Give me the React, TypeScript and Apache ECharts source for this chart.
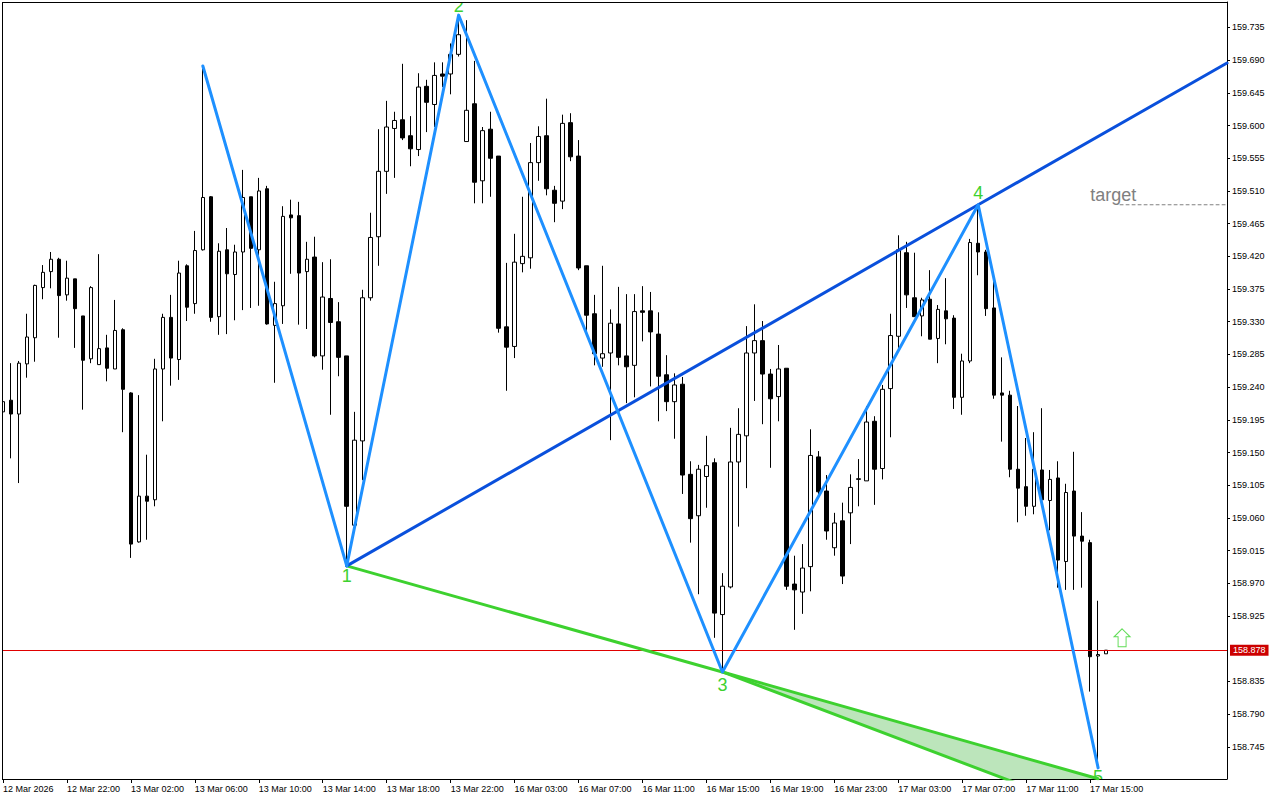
import React, { useEffect, useRef } from "react";
import * as echarts from "echarts";

const opens = [159.206,159.222,159.203,159.272,159.308,159.377,159.399,159.416,159.367,159.389,159.338,159.279,159.271,159.294,159.265,159.319,159.232,159.027,159.090,159.085,159.265,159.336,159.278,159.407,159.355,159.429,159.502,159.337,159.429,159.395,159.426,159.502,159.429,159.513,159.325,159.352,159.477,159.476,159.399,159.419,159.283,159.362,159.330,159.283,159.050,159.166,159.363,159.447,159.537,159.596,159.608,159.586,159.567,159.654,159.629,159.671,159.671,159.698,159.578,159.630,159.524,159.595,159.558,159.323,159.296,159.410,159.418,159.549,159.586,159.511,159.496,159.604,159.558,159.407,159.341,159.280,159.287,159.327,159.283,159.270,159.345,159.345,159.313,159.257,159.220,159.244,159.120,159.063,159.117,159.136,158.927,158.965,159.137,159.173,159.287,159.304,159.258,159.227,159.266,158.969,158.958,158.993,159.144,159.097,159.019,159.056,159.067,159.113,159.111,159.193,159.128,159.238,159.310,159.425,159.363,159.338,159.361,159.307,159.345,159.335,159.226,159.276,159.438,159.426,159.349,159.232,159.229,159.127,159.103,159.076,159.126,159.084,159.115,159.000,159.097,159.035,159.026,158.870,158.873];
const closes = [159.220,159.203,159.273,159.309,159.380,159.398,159.416,159.366,159.390,159.348,159.277,159.377,159.293,159.266,159.318,159.237,159.024,159.090,159.083,159.265,159.336,159.280,159.397,159.350,159.428,159.501,159.336,159.427,159.396,159.426,159.501,159.431,159.510,159.327,159.355,159.475,159.473,159.397,159.416,159.283,159.364,159.329,159.281,159.076,159.167,159.363,159.446,159.537,159.598,159.607,159.583,159.568,159.653,159.632,159.669,159.668,159.698,159.725,159.621,159.522,159.593,159.555,159.321,159.295,159.412,159.420,159.549,159.585,159.513,159.493,159.603,159.557,159.404,159.339,159.286,159.286,159.328,159.281,159.268,159.344,159.343,159.316,159.255,159.220,159.243,159.119,159.059,159.127,159.132,158.929,158.966,159.137,159.175,159.287,159.304,159.258,159.224,159.265,158.966,158.961,158.991,159.146,159.096,159.042,159.053,158.980,159.102,159.114,159.192,159.127,159.237,159.311,159.429,159.367,159.337,159.360,159.306,159.347,159.334,159.226,159.276,159.439,159.426,159.348,159.229,159.229,159.127,159.101,159.076,159.127,159.085,159.113,159.002,159.095,159.035,159.028,158.869,158.872,158.878];
const lows = [159.206,159.142,159.108,159.253,159.275,159.361,159.376,159.308,159.359,159.294,159.209,159.273,159.271,159.248,159.265,159.178,159.005,159.026,159.030,159.076,159.193,159.242,159.250,159.331,159.341,159.428,159.330,159.312,159.313,159.332,159.346,159.349,159.352,159.326,159.246,159.327,159.396,159.326,159.320,159.281,159.264,159.202,159.255,158.998,159.050,159.112,159.359,159.407,159.506,159.528,159.580,159.544,159.558,159.591,159.598,159.653,159.643,159.695,159.578,159.493,159.493,159.502,159.315,159.235,159.280,159.398,159.403,159.524,159.504,159.467,159.485,159.551,159.401,159.316,159.270,159.268,159.167,159.270,159.218,159.226,159.303,159.241,159.193,159.207,159.169,159.093,159.026,158.955,159.074,158.895,158.848,158.963,159.048,159.101,159.221,159.189,159.129,159.193,158.961,158.906,158.928,158.959,159.088,159.030,159.008,158.969,159.024,159.076,159.111,159.078,159.113,159.171,159.294,159.349,159.337,159.310,159.306,159.273,159.299,159.210,159.202,159.273,159.394,159.338,159.224,159.165,159.116,159.054,159.063,159.065,159.085,159.043,158.964,158.961,158.961,158.964,158.821,158.716,158.873];
const highs = [159.220,159.273,159.276,159.341,159.381,159.408,159.426,159.418,159.414,159.389,159.338,159.379,159.423,159.312,159.360,159.321,159.233,159.229,159.147,159.279,159.341,159.367,159.414,159.409,159.455,159.682,159.503,159.438,159.459,159.436,159.539,159.502,159.528,159.517,159.385,159.489,159.498,159.495,159.440,159.447,159.412,159.416,159.357,159.283,159.206,159.374,159.480,159.595,159.634,159.619,159.685,159.613,159.672,159.663,159.687,159.687,159.713,159.752,159.745,159.689,159.598,159.619,159.558,159.411,159.451,159.502,159.576,159.599,159.637,159.517,159.615,159.617,159.580,159.407,159.367,159.407,159.347,159.378,159.368,159.368,159.379,159.371,159.343,159.284,159.259,159.254,159.138,159.133,159.173,159.142,158.984,159.184,159.211,159.324,159.354,159.331,159.265,159.298,159.266,159.008,159.024,159.182,159.152,159.119,159.067,159.081,159.120,159.141,159.214,159.200,159.243,159.341,159.449,159.440,159.425,159.363,159.401,159.353,159.390,159.339,159.286,159.444,159.491,159.429,159.398,159.281,159.235,159.214,159.170,159.178,159.211,159.126,159.138,159.107,159.151,159.068,159.030,158.946,158.878];

const timeLabels = ["12 Mar 2026","12 Mar 22:00","13 Mar 02:00","13 Mar 06:00","13 Mar 10:00","13 Mar 14:00","13 Mar 18:00","13 Mar 22:00","16 Mar 03:00","16 Mar 07:00","16 Mar 11:00","16 Mar 15:00","16 Mar 19:00","16 Mar 23:00","17 Mar 03:00","17 Mar 07:00","17 Mar 11:00","17 Mar 15:00"];
const priceTicks = [158.745,158.79,158.835,158.925,158.97,159.015,159.06,159.105,159.15,159.195,159.24,159.285,159.33,159.375,159.42,159.465,159.51,159.555,159.6,159.645,159.69,159.735];
const currentPrice = 158.878;

const zigzagBars = [25,43,57,90,122,137];
const zigzagPrices = [159.682,158.994,159.752,158.848,159.491,158.716];
const upperBars = [43,122,153.125];
const upperPrices = [158.994,159.491,159.686];
const lowerBars = [43,90,137];
const lowerPrices = [158.994,158.848,158.701];
const wedgeBars = [90,137];
const wedgePrices = [158.848,158.6525];
const targetBars = [139.75,153.125];
const targetPrices = [159.491,159.491];
const arrowPoint = [140,158.895];

const pointTexts = ["1","2","3","4","5"];
const pointBars = [43,57,90,122,137];
const pointPrices = [158.98,159.765,158.83,159.507,158.7035];
const targetText = ["target"];
const targetTextBars = [138.9];
const targetTextPrices = [159.5045];

const FONT = "'Liberation Sans', Arial, sans-serif";
const BLACK = "#000000";
const pairs = (xs: number[], ys: number[]) => xs.map((x, i) => [x, ys[i]]);

function lineSeries(xs: number[], ys: number[], color: string, width = 3, type: any = "solid") {
  return {
    type: "line",
    data: pairs(xs, ys),
    symbol: "none",
    showSymbol: false,
    silent: true,
    lineStyle: { color, width, type, cap: "round", join: "round" },
    z: 5,
  };
}

function textSeries(texts: string[], xs: number[], ys: number[], color: string, size: number) {
  return {
    type: "custom",
    clip: true,
    silent: true,
    z: 6,
    data: pairs(xs, ys),
    encode: { x: 0, y: 1 },
    renderItem: (params: any, api: any) => {
      const p = api.coord([api.value(0), api.value(1)]);
      return {
        type: "text",
        x: p[0],
        y: p[1],
        style: {
          text: texts[params.dataIndex],
          fill: color,
          fontSize: size,
          fontFamily: FONT,
          align: "center",
          verticalAlign: "middle",
        },
      };
    },
  };
}

export default function App() {
  const ref = useRef<HTMLDivElement>(null);
  useEffect(() => {
    const chart = echarts.init(ref.current!, undefined, { renderer: "svg" });
    const candles = opens.map((o, i) => [i, o, closes[i], lows[i], highs[i]]);
    chart.setOption({
      animation: false,
      backgroundColor: "#ffffff",
      grid: { left: 2, top: 2, width: 1225, height: 777, show: false },
      graphic: [
        { type: "rect", z: 100, silent: true, shape: { x: 0, y: 0, width: 2, height: 800 }, style: { fill: "#ffffff" } },
        { type: "rect", z: 101, silent: true, shape: { x: 2, y: 2, width: 1, height: 778 }, style: { fill: BLACK } },
        { type: "rect", z: 101, silent: true, shape: { x: 2, y: 2, width: 1226, height: 1 }, style: { fill: BLACK } },
      ],
      xAxis: {
        type: "value",
        min: 0,
        max: 153.125,
        splitLine: { show: false },
        axisLine: { show: true, onZero: false, lineStyle: { color: BLACK, width: 1 } },
        axisTick: { show: true, length: 4, inside: false, lineStyle: { color: BLACK }, customValues: timeLabels.map((_, i) => i * 8) },
        axisLabel: {
          show: true,
          customValues: timeLabels.map((_, i) => i * 8),
          formatter: (v: number) => timeLabels[Math.round(v / 8)] ?? "",
          align: "left",
          margin: 5,
          color: BLACK,
          fontSize: 9,
          fontFamily: FONT,
        },
      },
      yAxis: {
        type: "value",
        position: "right",
        min: 158.7007,
        max: 159.77005,
        splitLine: { show: false },
        axisLine: { show: true, onZero: false, lineStyle: { color: BLACK, width: 1 } },
        axisTick: { show: true, length: 3, lineStyle: { color: BLACK }, customValues: priceTicks },
        axisLabel: {
          show: true,
          customValues: priceTicks,
          formatter: (v: number) => v.toFixed(3),
          margin: 5,
          color: BLACK,
          fontSize: 9,
          fontFamily: FONT,
        },
      },
      series: [
        {
          type: "candlestick",
          data: candles,
          encode: { x: 0, y: [1, 2, 3, 4] },
          barWidth: 4,
          silent: true,
          itemStyle: {
            color: "#ffffff",
            color0: BLACK,
            borderColor: BLACK,
            borderColor0: BLACK,
            borderWidth: 1,
          },
          markLine: {
            silent: true,
            symbol: "none",
            animation: false,
            precision: 3,
            data: [{ yAxis: currentPrice }],
            lineStyle: { color: "#e00000", width: 1, type: "solid" },
            label: {
              show: true,
              position: "end",
              formatter: currentPrice.toFixed(3),
              distance: 3,
              color: "#ffffff",
              backgroundColor: "#cc0000",
              padding: [1, 3, 1, 3],
              fontSize: 9,
              fontFamily: FONT,
            },
          },
        },
        {
          type: "custom",
          clip: true,
          silent: true,
          z: 4,
          data: [0],
          renderItem: (_: any, api: any) => ({
            type: "polygon",
            shape: {
              points: [
                api.coord([wedgeBars[0], wedgePrices[0]]),
                api.coord([lowerBars[2], lowerPrices[2]]),
                api.coord([wedgeBars[1], wedgePrices[1]]),
              ],
            },
            style: { fill: "#bce5bb" },
          }),
        },
        lineSeries(lowerBars, lowerPrices, "#3dd12f"),
        lineSeries(wedgeBars, wedgePrices, "#3dd12f"),
        lineSeries(upperBars, upperPrices, "#0a50dc"),
        lineSeries(zigzagBars, zigzagPrices, "#1e90ff"),
        lineSeries(targetBars, targetPrices, "#808080", 1, [3, 3]),
        {
          type: "scatter",
          silent: true,
          z: 6,
          data: [arrowPoint],
          symbol: "path://M8 0 L16 8 L12 8 L12 18 L4 18 L4 8 L0 8 Z",
          symbolSize: [16, 18],
          itemStyle: { color: "#ffffff", borderColor: "#5fdc55", borderWidth: 1, opacity: 1 },
        },
        textSeries(pointTexts, pointBars, pointPrices, "#3dd12f", 18),
        textSeries(targetText, targetTextBars, targetTextPrices, "#808080", 18),
      ],
    });
    return () => chart.dispose();
  }, []);
  return <div ref={ref} style={{ position: "fixed", left: 0, top: 0, width: 1280, height: 800, background: "#fff" }} />;
}
